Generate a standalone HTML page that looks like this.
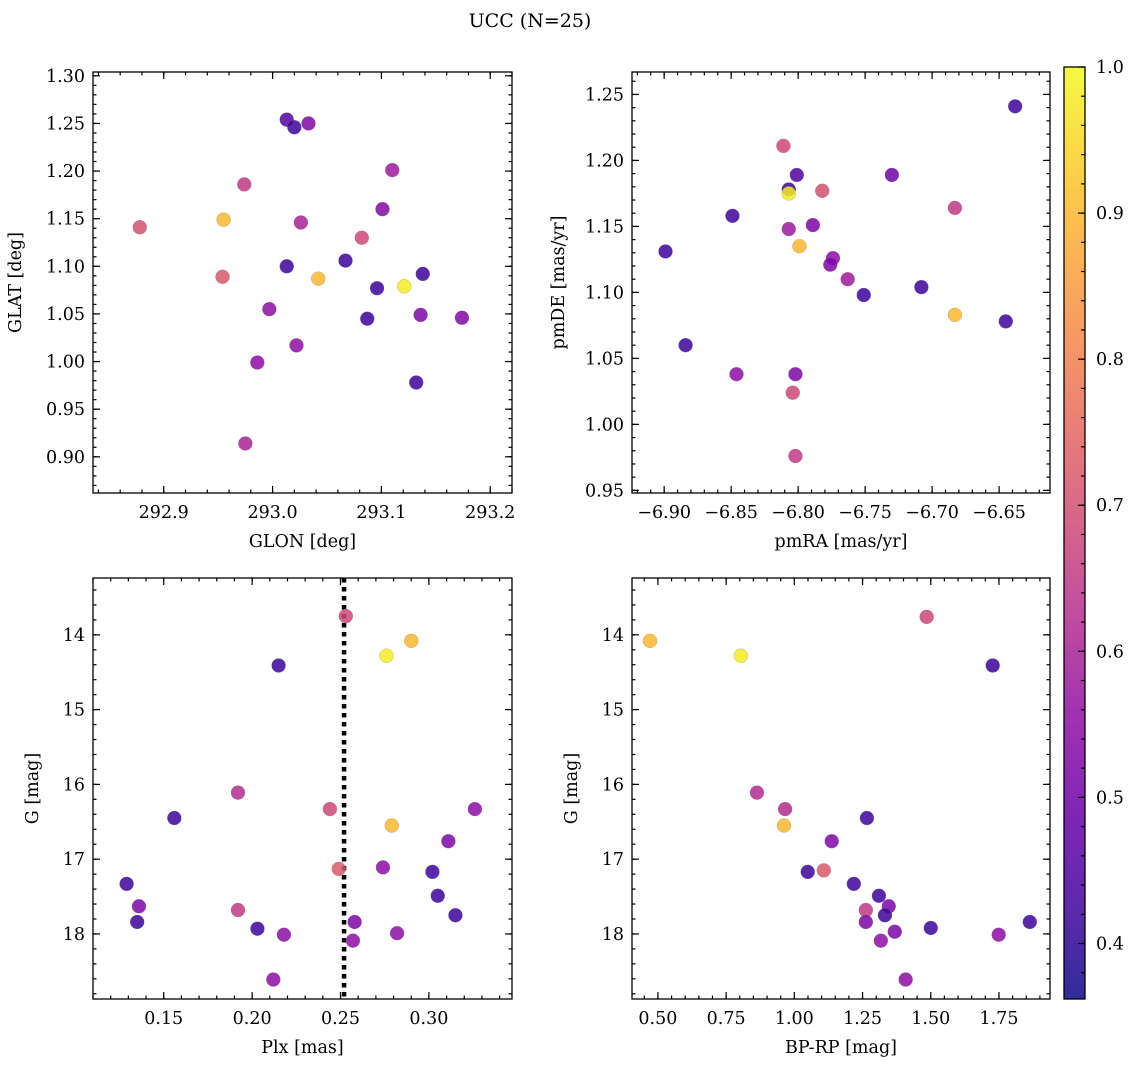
<!DOCTYPE html>
<html><head><meta charset="utf-8">
<style>
html,body{margin:0;padding:0;background:#fff;}
svg text{font-family:"DejaVu Serif","Liberation Serif",serif;fill:#000;}
</style></head>
<body>
<svg id="fig" width="1136" height="1067" viewBox="0 0 1136 1067" xmlns="http://www.w3.org/2000/svg">
<text x="530" y="27" font-size="19" text-anchor="middle">UCC (N=25)</text>
</svg>
<script>
// ---- data ----
const glon = [293.013,293.020,293.033,293.110,292.974,292.878,292.955,293.026,293.101,293.082,293.013,293.067,292.954,293.042,293.121,293.138,293.096,292.997,293.087,293.136,293.174,293.022,292.986,293.132,292.975];
const glat = [1.254,1.246,1.250,1.201,1.186,1.141,1.149,1.146,1.160,1.130,1.100,1.106,1.089,1.087,1.079,1.092,1.077,1.055,1.045,1.049,1.046,1.017,0.999,0.978,0.914];
const probPos = [0.45,0.42,0.53,0.58,0.65,0.70,0.90,0.60,0.53,0.68,0.42,0.42,0.72,0.90,0.98,0.42,0.42,0.55,0.42,0.52,0.53,0.55,0.55,0.42,0.60];

const pmra = [-6.638,-6.811,-6.801,-6.807,-6.807,-6.782,-6.730,-6.683,-6.849,-6.807,-6.789,-6.799,-6.899,-6.774,-6.776,-6.763,-6.751,-6.708,-6.683,-6.645,-6.884,-6.846,-6.802,-6.804,-6.802];
const pmde = [1.241,1.211,1.189,1.178,1.175,1.177,1.189,1.164,1.158,1.148,1.151,1.135,1.131,1.126,1.121,1.110,1.098,1.104,1.083,1.078,1.060,1.038,1.038,1.024,0.976];
const probPm = [0.42,0.68,0.45,0.42,0.98,0.70,0.50,0.65,0.42,0.58,0.52,0.90,0.42,0.55,0.52,0.58,0.42,0.42,0.90,0.42,0.42,0.55,0.52,0.68,0.65];

const plx = [0.253,0.290,0.276,0.215,0.192,0.244,0.326,0.156,0.279,0.311,0.249,0.274,0.302,0.129,0.305,0.136,0.192,0.315,0.135,0.258,0.203,0.218,0.282,0.257,0.212];
const gmagPlx = [13.75,14.08,14.28,14.41,16.11,16.33,16.33,16.45,16.55,16.76,17.13,17.11,17.17,17.33,17.49,17.63,17.68,17.75,17.84,17.84,17.93,18.01,17.99,18.09,18.61];
const probPlx = [0.68,0.90,0.98,0.42,0.62,0.68,0.55,0.42,0.90,0.52,0.72,0.55,0.42,0.42,0.42,0.52,0.65,0.42,0.42,0.52,0.42,0.55,0.55,0.55,0.55];
const plxLine = 0.252;

const bprp = [1.485,0.471,0.804,1.727,0.863,0.966,1.266,0.962,1.137,1.108,1.049,1.218,1.310,1.346,1.262,1.332,1.262,1.368,1.863,1.500,1.749,1.317,1.408];
const gmagCol = [13.76,14.08,14.28,14.41,16.11,16.33,16.45,16.55,16.76,17.15,17.17,17.33,17.49,17.63,17.68,17.75,17.84,17.97,17.84,17.92,18.01,18.09,18.61];
const probCol = [0.68,0.90,0.98,0.42,0.62,0.62,0.42,0.90,0.52,0.72,0.42,0.42,0.42,0.52,0.65,0.42,0.52,0.52,0.42,0.42,0.55,0.55,0.55];

const cbTicks = [0.4,0.5,0.6,0.7,0.8,0.9,1.0];
const cbMin = 0.362, cbMax = 1.0;

// ---- helpers ----
const NS = "http://www.w3.org/2000/svg";
const svg = document.getElementById('fig');
function mk(tag, attrs, parent){const e=document.createElementNS(NS,tag);for(const k in attrs)e.setAttribute(k,attrs[k]);(parent||svg).appendChild(e);return e;}
const plasmaStops=[[0.0,[13,8,135]],[0.1,[65,4,157]],[0.2,[106,0,168]],[0.3,[143,13,164]],[0.4,[177,42,144]],[0.5,[204,71,120]],[0.6,[225,100,98]],[0.7,[242,132,75]],[0.8,[252,166,54]],[0.9,[252,206,37]],[1.0,[240,249,33]]];
function plasma(t){t=Math.max(0,Math.min(1,t));for(let i=1;i<plasmaStops.length;i++){if(t<=plasmaStops[i][0]){const a=plasmaStops[i-1],b=plasmaStops[i];const f=(t-a[0])/(b[0]-a[0]);return 'rgb('+a[1].map((v,j)=>Math.round(v+(b[1][j]-v)*f)).join(',')+')';}}return 'rgb(240,249,33)';}
function pcol(p){return plasma((p-cbMin)/(cbMax-cbMin));}
function fmt(v,d){let s=v.toFixed(d);return s.replace('-','\u2212');}
const FS=17.5;

function panel(o){
  const g=mk('g',{});
  
  
  const L=o.x0,R=o.x1,T=o.y0,B=o.y1;
  const sx=v=>L+(v-o.xmin)/(o.xmax-o.xmin)*(R-L);
  const sy=o.invert? v=>T+(v-o.ymin)/(o.ymax-o.ymin)*(B-T) : v=>B-(v-o.ymin)/(o.ymax-o.ymin)*(B-T);
  const tg=mk('g',{stroke:'#000','stroke-width':1.2},g);
  function xt(v,len){const x=sx(v);if(x<L-0.5||x>R+0.5)return;mk('line',{x1:x,y1:B,x2:x,y2:B-len},tg);mk('line',{x1:x,y1:T,x2:x,y2:T+len},tg);}
  function yt(v,len){const y=sy(v);if(y<T-0.5||y>B+0.5)return;mk('line',{x1:L,y1:y,x2:L+len,y2:y},tg);mk('line',{x1:R,y1:y,x2:R-len,y2:y},tg);}
  const lo=Math.min(o.xmin,o.xmax),hi=Math.max(o.xmin,o.xmax);
  for(let v=Math.ceil(lo/o.xminor)*o.xminor;v<=hi;v+=o.xminor)xt(v,3.5);
  const ylo=Math.min(o.ymin,o.ymax),yhi=Math.max(o.ymin,o.ymax);
  for(let v=Math.ceil(ylo/o.yminor)*o.yminor;v<=yhi;v+=o.yminor)yt(v,3.5);
  o.xticks.forEach(v=>{xt(v,7);const t=mk('text',{x:sx(v),y:B+25,'font-size':FS,'text-anchor':'middle'},g);t.textContent=fmt(v,o.xd);});
  o.yticks.forEach(v=>{yt(v,7);const t=mk('text',{x:L-8,y:sy(v)+6,'font-size':FS,'text-anchor':'end'},g);t.textContent=fmt(v,o.yd);});
  if(o.vline!==undefined){const l=mk('line',{x1:sx(o.vline),x2:sx(o.vline),y1:T,y2:B,stroke:'#000','stroke-width':4.5,'stroke-dasharray':'4.5 4.5'},g);}
  o.xs.forEach((v,i)=>{const c=mk('circle',{cx:sx(v),cy:sy(o.ys[i]),r:7,fill:pcol(o.cs[i]),'fill-opacity':0.85,stroke:'#777','stroke-width':0.4,'stroke-opacity':0.6},g);
    
    });
  mk('rect',{x:L,y:T,width:R-L,height:B-T,fill:'none',stroke:'#000','stroke-width':1.3},g);
  const xl=mk('text',{x:(L+R)/2,y:B+54,'font-size':FS,'text-anchor':'middle'},g);xl.textContent=o.xlabel;
  
  const yx=L-o.ylOff, yy=(T+B)/2;
  const yl=mk('text',{x:yx,y:yy,'font-size':FS,'text-anchor':'middle',transform:'rotate(-90 '+yx+' '+yy+')'},g);yl.textContent=o.ylabel;
  
}

panel({name:'glon-glat-panel',x0:93,x1:512,y0:72,y1:493,xmin:292.835,xmax:293.220,ymin:0.862,ymax:1.304,xticks:[292.9,293.0,293.1,293.2],xd:1,yticks:[0.90,0.95,1.00,1.05,1.10,1.15,1.20,1.25,1.30],yd:2,xminor:0.02,yminor:0.01,xs:glon,ys:glat,cs:probPos,xlabel:'GLON [deg]',ylabel:'GLAT [deg]',ylOff:72});
panel({name:'proper-motion-panel',x0:632,x1:1050,y0:72,y1:493,xmin:-6.924,xmax:-6.612,ymin:0.948,ymax:1.267,xticks:[-6.90,-6.85,-6.80,-6.75,-6.70,-6.65],xd:2,yticks:[0.95,1.00,1.05,1.10,1.15,1.20,1.25],yd:2,xminor:0.01,yminor:0.01,xs:pmra,ys:pmde,cs:probPm,xlabel:'pmRA [mas/yr]',ylabel:'pmDE [mas/yr]',ylOff:68});
panel({name:'parallax-magnitude-panel',x0:93,x1:512,y0:578,y1:999,xmin:0.110,xmax:0.347,ymin:13.24,ymax:18.87,invert:true,xticks:[0.15,0.20,0.25,0.30],xd:2,yticks:[14,15,16,17,18],yd:0,xminor:0.01,yminor:0.2,xs:plx,ys:gmagPlx,cs:probPlx,vline:plxLine,xlabel:'Plx [mas]',ylabel:'G [mag]',ylOff:55});
panel({name:'color-magnitude-panel',x0:632,x1:1050,y0:578,y1:999,xmin:0.405,xmax:1.937,ymin:13.24,ymax:18.87,invert:true,xticks:[0.50,0.75,1.00,1.25,1.50,1.75],xd:2,yticks:[14,15,16,17,18],yd:0,xminor:0.05,yminor:0.2,xs:bprp,ys:gmagCol,cs:probCol,xlabel:'BP-RP [mag]',ylabel:'G [mag]',ylOff:55});

// colorbar
(function(){
  const L=1064,R=1085,T=67,B=999;
  const g=mk('g',{});
  
  
  const defs=mk('defs',{},g);
  const lg=mk('linearGradient',{id:'cbg',x1:0,y1:1,x2:0,y2:0},defs);
  for(let i=0;i<=20;i++){const t=i/20;mk('stop',{offset:t,'stop-color':plasma(t)},lg);}
  mk('rect',{x:L,y:T,width:R-L,height:B-T,fill:'url(#cbg)','fill-opacity':0.85},g);
  const sy=v=>B-(v-cbMin)/(cbMax-cbMin)*(B-T);
  for(let v=0.38;v<=1.0001;v+=0.02){mk('line',{x1:R,x2:R-4,y1:sy(v),y2:sy(v),stroke:'#000','stroke-width':1.2},g);}
  cbTicks.forEach(v=>{mk('line',{x1:R,x2:R-7,y1:sy(v),y2:sy(v),stroke:'#000','stroke-width':1.2},g);
    const t=mk('text',{x:R+11,y:sy(v)+6,'font-size':FS},g);t.textContent=v.toFixed(1);
    
    });
  mk('rect',{x:L,y:T,width:R-L,height:B-T,fill:'none',stroke:'#000','stroke-width':1.3},g);
})();
</script>
</body></html>
